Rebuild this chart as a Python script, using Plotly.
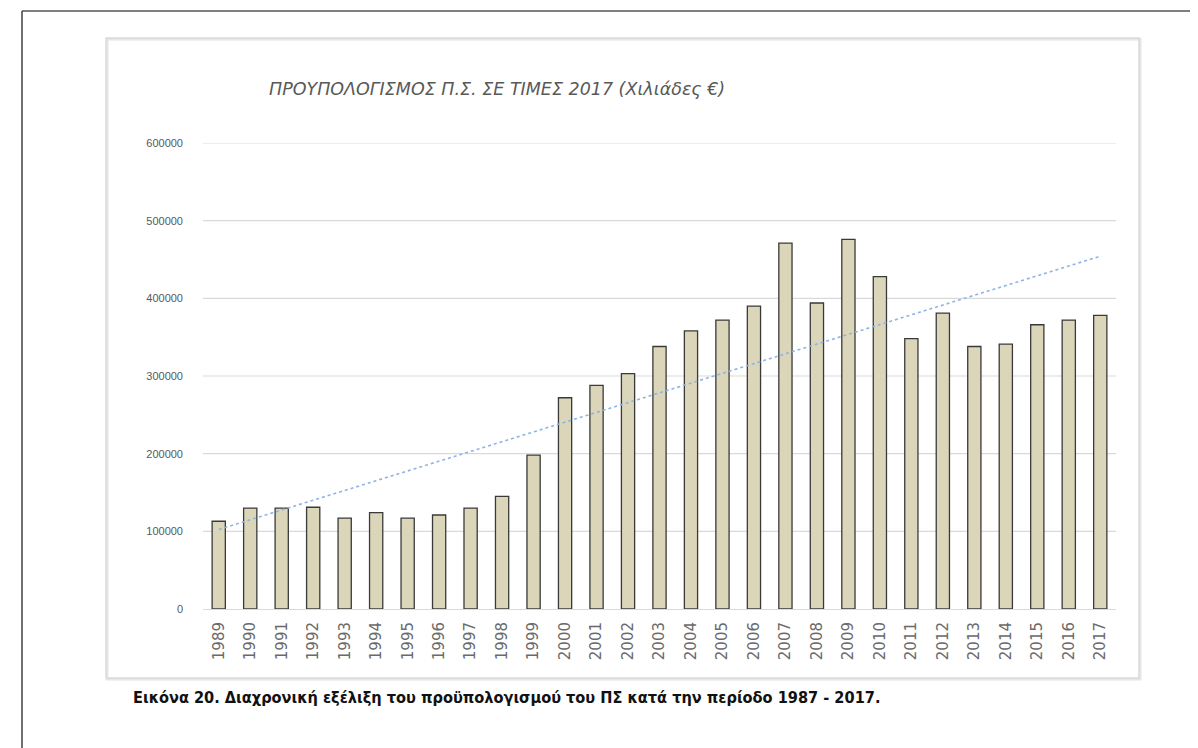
import numpy as np
import plotly.graph_objects as go

W, H = 1198, 748
OFF = 8  # default page body margin
FW, FH = W - OFF, H - OFF

years = [str(y) for y in range(1989, 2018)]
budget = [113000, 130000, 130000, 131000, 117000, 124000, 117000, 121000, 130000, 145000,
          198000, 272000, 288000, 303000, 338000, 358000, 372000, 390000, 471000, 394000,
          476000, 428000, 348000, 381000, 338000, 341000, 366000, 372000, 378000]
y_ticks = [0, 100000, 200000, 300000, 400000, 500000, 600000]

title_text = "ΠΡΟΥΠΟΛΟΓΙΣΜΟΣ Π.Σ. ΣΕ ΤΙΜΕΣ 2017 (Χιλιάδες €)"
caption_text = "Εικόνα 20. Διαχρονική εξέλιξη του προϋπολογισμού του ΠΣ κατά την περίοδο 1987 - 2017."

# linear trendline (least squares, as in the spreadsheet's trendline)
idx = np.arange(len(budget))
coef = np.polyfit(idx, budget, 1)
trend = np.polyval(coef, idx)

def px(x):
    return (x - OFF) / FW

def py(y):
    return 1 - (y - OFF) / FH

fig = go.Figure()
fig.add_trace(go.Bar(
    x=years, y=budget,
    marker=dict(color="#dbd5b9", line=dict(color="#3a3a3a", width=1.3)),
    width=0.42, showlegend=False, hoverinfo="x+y",
))
fig.add_trace(go.Scatter(
    x=years, y=trend, mode="lines",
    line=dict(color="#8db4e2", width=1.6, dash="dot"),
    showlegend=False, hoverinfo="skip",
))

fig.update_layout(
    width=FW, height=FH, autosize=False,
    margin=dict(l=0, r=0, t=0, b=0, pad=0, autoexpand=False),
    paper_bgcolor="white", plot_bgcolor="white",
    xaxis=dict(
        domain=[px(203), px(1116)],
        type="category", automargin=False,
        tickangle=-90,
        tickfont=dict(family="DejaVu Sans, sans-serif", size=15, color="#6a6a6a"),
        showgrid=False, showline=True, linecolor="#d9d9e6", linewidth=1,
        ticks="", ticklen=0, ticklabelstandoff=6,
    ),
    yaxis=dict(
        domain=[py(609), py(143)],
        range=[0, 600000], automargin=False,
        tickvals=y_ticks,
        ticktext=[str(v) for v in y_ticks],
        tickfont=dict(family="Liberation Sans, Arial, sans-serif", size=11, color="#595959"),
        showgrid=False,
        zeroline=False, showline=False, ticks="", ticklabelstandoff=19,
    ),
    shapes=[
        # outer page frame
        dict(type="line", xref="paper", yref="paper", x0=px(22), x1=1.0, y0=py(11), y1=py(11),
             line=dict(color="#7f7f7f", width=2)),
        dict(type="line", xref="paper", yref="paper", x0=px(22), x1=px(22), y0=py(11), y1=0,
             line=dict(color="#404040", width=1.5)),
        # chart box with soft shadow
        dict(type="rect", xref="paper", yref="paper", x0=px(107), x1=px(1140), y0=py(679), y1=py(39),
             line=dict(color="#e6e6e6", width=3), layer="below"),
        dict(type="rect", xref="paper", yref="paper", x0=px(106), x1=px(1139), y0=py(678), y1=py(38),
             line=dict(color="#d4d4d4", width=1), layer="below"),
    ] + [
        # horizontal gridlines at each tick value
        dict(type="line", xref="x domain", yref="y", x0=0, x1=1, y0=v, y1=v,
             line=dict(color="#d9d9d9", width=1.2), layer="below")
        for v in y_ticks[1:]
    ],
    annotations=[
        dict(text=title_text, xref="paper", yref="paper", x=px(497), y=py(89),
             xanchor="center", yanchor="middle", showarrow=False,
             font=dict(family="DejaVu Sans, sans-serif", size=17.5, color="#595959", style="italic")),
        dict(text="<b>" + caption_text + "</b>", xref="paper", yref="paper", x=px(506), y=py(697),
             xanchor="center", yanchor="middle", showarrow=False,
             font=dict(family="DejaVu Sans Condensed, Liberation Sans Narrow, sans-serif",
                       size=16.2, color="#111111")),
    ],
)

fig.write_html("out.html")
